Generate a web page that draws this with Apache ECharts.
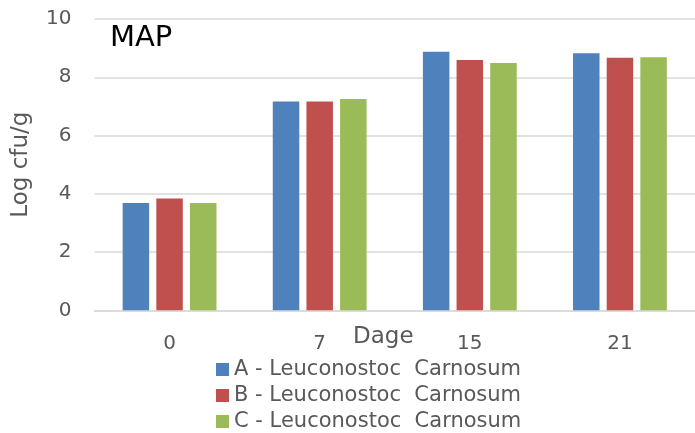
<!DOCTYPE html>
<html>
<head>
<meta charset="utf-8">
<script src="https://cdn.jsdelivr.net/npm/echarts@6/dist/echarts.min.js"></script>
<style>html,body{margin:0;padding:0;background:#fff;}#c{width:695px;height:433px;}</style>
</head>
<body>
<div id="c"></div>
<script>
const days = ['0', '7', '15', '21'];
const seriesNames = ['A - Leuconostoc  Carnosum', 'B - Leuconostoc  Carnosum', 'C - Leuconostoc  Carnosum'];
const valuesA = [3.68, 7.17, 8.88, 8.82];
const valuesB = [3.84, 7.17, 8.59, 8.67];
const valuesC = [3.68, 7.25, 8.49, 8.69];
const yTicks = { min: 0, max: 10, interval: 2 };
const colors = ['#4F81BD', '#C0504D', '#9BBB59'];
const font = 'DejaVu Sans';
const textColor = '#595959';

const chart = echarts.init(document.getElementById('c'), null, { renderer: 'canvas' });
const allValues = [valuesA, valuesB, valuesC];
const legendTops = [359, 385, 411];
chart.setOption({
  animation: false,
  textStyle: { fontFamily: font },
  title: {
    text: 'MAP', left: 105, top: 19,
    textStyle: { fontFamily: font, fontSize: 29, fontWeight: 'normal', color: '#000' }
  },
  graphic: [{
    type: 'text', left: 353, top: 326,
    style: { text: 'Dage', font: '23px "DejaVu Sans"', fill: textColor }
  }],
  legend: seriesNames.map((n, i) => ({
    orient: 'vertical', left: 216, top: legendTops[i], padding: 0,
    itemWidth: 13, itemHeight: 13, itemGap: 5,
    icon: 'rect',
    textStyle: { fontFamily: font, fontSize: 21, color: textColor },
    data: [n]
  })),
  grid: { left: 94.5, top: 19, width: 604, height: 291.3, containLabel: false },
  xAxis: {
    type: 'category', data: days,
    axisLine: { lineStyle: { color: '#d9d9d9', width: 1.5 } },
    axisTick: { show: false },
    axisLabel: { fontFamily: font, fontSize: 20, color: textColor, margin: 23 }
  },
  yAxis: {
    type: 'value', min: yTicks.min, max: yTicks.max, interval: yTicks.interval,
    name: 'Log cfu/g', nameLocation: 'middle', nameGap: 62,
    nameTextStyle: { fontFamily: font, fontSize: 23, color: textColor },
    axisLine: { show: false }, axisTick: { show: false },
    axisLabel: { fontFamily: font, fontSize: 20, color: textColor, margin: 23 },
    splitLine: { lineStyle: { color: '#d9d9d9', width: 1.5 } }
  },
  series: allValues.map((vals, i) => ({
    name: seriesNames[i], type: 'bar', data: vals,
    barWidth: 26.5, barGap: '27%',
    itemStyle: { color: colors[i] }
  }))
});
</script>
</body>
</html>
